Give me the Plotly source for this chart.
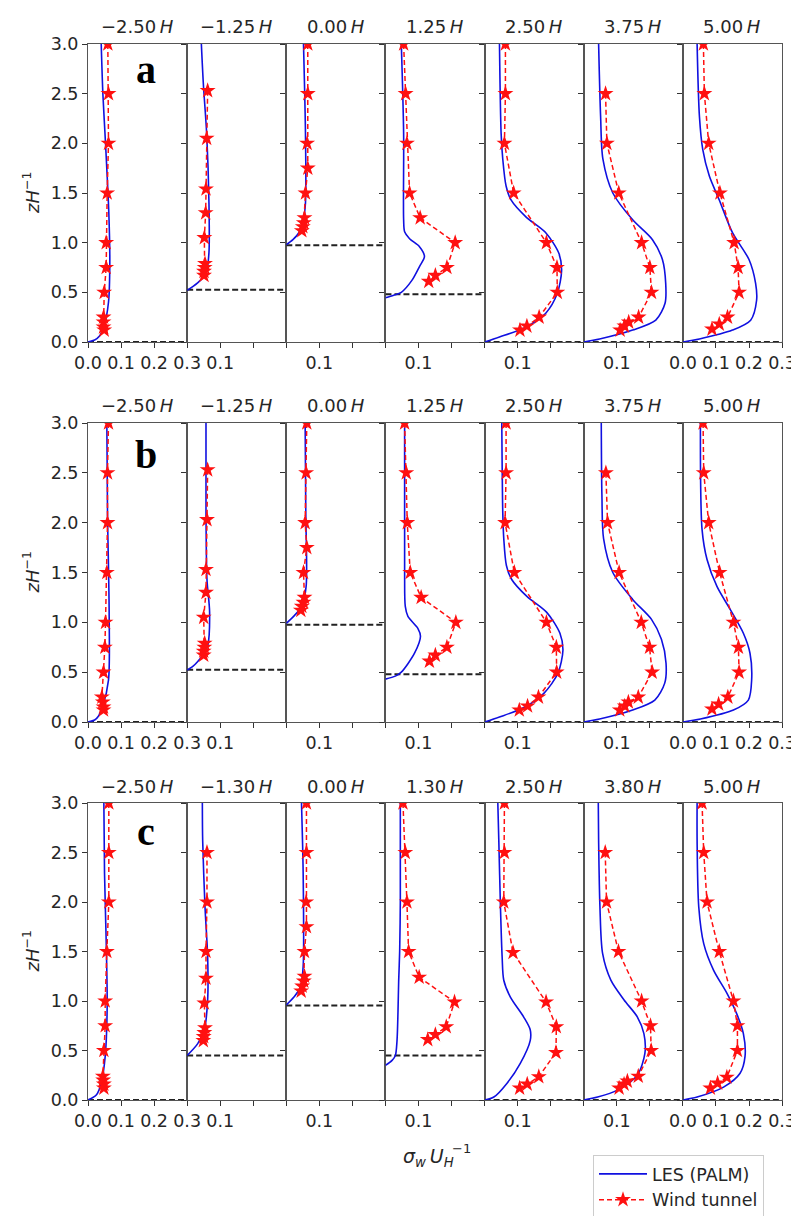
import plotly.graph_objects as go

# ---------------- data ----------------
titles_ab = ["−2.50", "−1.25", "0.00", "1.25", "2.50", "3.75", "5.00"]
titles_c = ["−2.50", "−1.30", "0.00", "1.30", "2.50", "3.80", "5.00"]
row_labels = ["a", "b", "c"]

roof_a = [0, 0.525, 0.975, 0.48, 0, 0, 0]
roof_b = [0, 0.525, 0.975, 0.48, 0, 0, 0]
roof_c = [0, 0.45, 0.955, 0.45, 0, 0, 0]

# wind tunnel heights (z/H) per panel
wt_z_a = [
    [3.0, 2.5, 2.0, 1.5, 1.0, 0.75, 0.5, 0.25, 0.2, 0.15, 0.12],
    [2.53, 2.05, 1.54, 1.3, 1.05, 0.79, 0.75, 0.71, 0.67],
    [3.0, 2.5, 2.0, 1.75, 1.5, 1.25, 1.2, 1.16, 1.12],
    [3.0, 2.5, 2.0, 1.5, 1.25, 1.0, 0.75, 0.67, 0.61],
    [3.0, 2.5, 2.0, 1.5, 1.0, 0.75, 0.5, 0.25, 0.16, 0.12],
    [2.5, 2.0, 1.5, 1.0, 0.75, 0.5, 0.25, 0.2, 0.16, 0.12],
    [3.0, 2.5, 2.0, 1.5, 1.0, 0.75, 0.5, 0.25, 0.18, 0.13],
]
wt_x_a = [
    [0.060, 0.062, 0.062, 0.058, 0.055, 0.055, 0.049, 0.047, 0.047, 0.047, 0.049],
    [0.062, 0.059, 0.057, 0.056, 0.052, 0.054, 0.053, 0.051, 0.051],
    [0.065, 0.065, 0.063, 0.065, 0.058, 0.055, 0.053, 0.050, 0.047],
    [0.055, 0.061, 0.065, 0.073, 0.105, 0.211, 0.186, 0.151, 0.131],
    [0.063, 0.063, 0.060, 0.088, 0.187, 0.219, 0.220, 0.165, 0.128, 0.107],
    [0.066, 0.070, 0.106, 0.175, 0.200, 0.205, 0.166, 0.136, 0.123, 0.110],
    [0.062, 0.065, 0.078, 0.112, 0.155, 0.167, 0.170, 0.135, 0.110, 0.088],
]
wt_z_b = [
    [3.0, 2.5, 2.0, 1.5, 1.0, 0.75, 0.5, 0.25, 0.2, 0.15, 0.12],
    [2.53, 2.03, 1.53, 1.3, 1.05, 0.79, 0.75, 0.71, 0.67],
    [3.0, 2.5, 2.0, 1.75, 1.5, 1.25, 1.2, 1.16, 1.12],
    [3.0, 2.5, 2.0, 1.5, 1.25, 1.0, 0.75, 0.67, 0.61],
    [3.0, 2.5, 2.0, 1.5, 1.0, 0.75, 0.5, 0.25, 0.16, 0.12],
    [2.5, 2.0, 1.5, 1.0, 0.75, 0.5, 0.25, 0.2, 0.16, 0.12],
    [3.0, 2.5, 2.0, 1.5, 1.0, 0.75, 0.5, 0.25, 0.18, 0.13],
]
wt_x_b = [
    [0.062, 0.059, 0.059, 0.057, 0.053, 0.051, 0.047, 0.042, 0.045, 0.047, 0.047],
    [0.062, 0.060, 0.057, 0.057, 0.050, 0.053, 0.052, 0.050, 0.050],
    [0.062, 0.060, 0.057, 0.062, 0.052, 0.055, 0.052, 0.047, 0.044],
    [0.058, 0.063, 0.066, 0.075, 0.108, 0.213, 0.186, 0.151, 0.133],
    [0.065, 0.065, 0.062, 0.090, 0.187, 0.217, 0.218, 0.163, 0.130, 0.105],
    [0.067, 0.072, 0.107, 0.174, 0.199, 0.207, 0.165, 0.135, 0.124, 0.109],
    [0.061, 0.063, 0.078, 0.111, 0.153, 0.168, 0.170, 0.136, 0.108, 0.088],
]
wt_z_c = [
    [3.0, 2.5, 2.0, 1.5, 1.0, 0.75, 0.5, 0.24, 0.2, 0.16, 0.12],
    [2.5, 2.0, 1.5, 1.23, 0.98, 0.73, 0.68, 0.64, 0.6],
    [3.0, 2.5, 2.0, 1.75, 1.5, 1.25, 1.2, 1.15, 1.1],
    [3.0, 2.5, 2.0, 1.5, 1.24, 0.99, 0.74, 0.66, 0.61],
    [3.0, 2.5, 2.0, 1.49, 0.99, 0.74, 0.48, 0.235, 0.16, 0.12],
    [2.5, 2.0, 1.5, 1.0, 0.75, 0.5, 0.24, 0.19, 0.16, 0.12],
    [3.0, 2.5, 2.0, 1.5, 1.0, 0.75, 0.5, 0.23, 0.17, 0.12],
]
wt_x_c = [
    [0.063, 0.063, 0.063, 0.057, 0.052, 0.052, 0.048, 0.045, 0.046, 0.048, 0.048],
    [0.060, 0.060, 0.057, 0.057, 0.052, 0.054, 0.052, 0.050, 0.049],
    [0.061, 0.061, 0.060, 0.061, 0.055, 0.055, 0.053, 0.048, 0.045],
    [0.053, 0.060, 0.065, 0.070, 0.102, 0.209, 0.184, 0.151, 0.128],
    [0.060, 0.060, 0.058, 0.086, 0.186, 0.217, 0.216, 0.164, 0.129, 0.106],
    [0.065, 0.069, 0.105, 0.175, 0.202, 0.204, 0.165, 0.132, 0.122, 0.107],
    [0.058, 0.063, 0.073, 0.110, 0.153, 0.165, 0.165, 0.133, 0.105, 0.083],
]

# LES (PALM) profiles per panel
les_z_a = [
    [0, 0.02, 0.06, 0.15, 0.4, 0.8, 1.3, 2.0, 2.5, 3.0],
    [0.52, 0.56, 0.62, 0.7, 0.9, 1.4, 2.1, 2.6, 3.0],
    [0.98, 1.03, 1.1, 1.2, 1.4, 2.1, 3.0],
    [0.445, 0.47, 0.5, 0.62, 0.76, 0.86, 0.96, 1.04, 1.11, 1.23, 2.1, 3.0],
    [0, 0.05, 0.15, 0.29, 0.49, 0.72, 0.89, 1.1, 1.26, 1.43, 1.57, 1.84, 2.1, 3.0],
    [0, 0.03, 0.12, 0.22, 0.39, 0.59, 0.83, 1.03, 1.23, 1.5, 1.84, 2.27, 3.0],
    [0, 0.03, 0.12, 0.22, 0.42, 0.59, 0.83, 1.1, 1.43, 1.67, 1.94, 2.27, 3.0],
]
les_x_a = [
    [0, 0.02, 0.035, 0.048, 0.062, 0.066, 0.063, 0.053, 0.045, 0.040],
    [0, 0.018, 0.04, 0.058, 0.066, 0.066, 0.059, 0.049, 0.043],
    [0, 0.02, 0.038, 0.05, 0.058, 0.058, 0.052],
    [0, 0.025, 0.048, 0.08, 0.103, 0.118, 0.103, 0.073, 0.058, 0.055, 0.055, 0.048],
    [0, 0.045, 0.125, 0.185, 0.22, 0.233, 0.225, 0.185, 0.125, 0.08, 0.065, 0.055, 0.05, 0.045],
    [0, 0.048, 0.148, 0.218, 0.246, 0.248, 0.238, 0.208, 0.148, 0.088, 0.058, 0.051, 0.045],
    [0, 0.05, 0.15, 0.205, 0.223, 0.22, 0.2, 0.15, 0.11, 0.08, 0.06, 0.05, 0.043],
]
les_z_b = [
    [0, 0.02, 0.06, 0.15, 0.42, 1.1, 2.1, 3.0],
    [0.52, 0.56, 0.6, 0.68, 0.76, 1.1, 1.43, 2.1, 3.0],
    [0.99, 1.06, 1.16, 1.36, 2.1, 3.0],
    [0.43, 0.46, 0.5, 0.69, 0.86, 0.94, 1.06, 1.16, 1.5, 3.0],
    [0, 0.05, 0.15, 0.29, 0.49, 0.72, 0.89, 1.1, 1.26, 1.43, 1.57, 1.84, 2.1, 3.0],
    [0, 0.03, 0.12, 0.22, 0.39, 0.59, 0.83, 1.03, 1.23, 1.5, 1.84, 2.27, 3.0],
    [0, 0.03, 0.12, 0.22, 0.42, 0.69, 0.89, 1.13, 1.36, 1.63, 1.93, 3.0],
]
les_x_b = [
    [0, 0.02, 0.032, 0.044, 0.062, 0.064, 0.059, 0.057],
    [0, 0.018, 0.03, 0.05, 0.062, 0.068, 0.06, 0.057, 0.057],
    [0, 0.022, 0.047, 0.06, 0.059, 0.057],
    [0, 0.03, 0.048, 0.088, 0.106, 0.098, 0.068, 0.06, 0.058, 0.058],
    [0, 0.045, 0.122, 0.18, 0.222, 0.237, 0.228, 0.188, 0.128, 0.082, 0.066, 0.058, 0.055, 0.052],
    [0, 0.048, 0.148, 0.215, 0.245, 0.249, 0.235, 0.205, 0.148, 0.088, 0.06, 0.055, 0.053],
    [0, 0.053, 0.153, 0.198, 0.208, 0.203, 0.183, 0.143, 0.103, 0.073, 0.058, 0.053],
]
les_z_c = [
    [0, 0.05, 0.17, 0.44, 0.94, 1.61, 2.29, 3.0],
    [0.45, 0.57, 0.71, 1.01, 1.45, 1.95, 2.62, 3.0],
    [0.96, 1.04, 1.14, 1.35, 2.29, 3.0],
    [0.35, 0.4, 0.45, 0.6, 0.9, 1.2, 1.5, 2.0, 3.0],
    [0, 0.03, 0.17, 0.37, 0.6, 0.71, 0.84, 1.04, 1.21, 1.45, 1.95, 2.62, 3.0],
    [0, 0.03, 0.1, 0.25, 0.47, 0.67, 0.84, 1.01, 1.21, 1.48, 1.95, 2.62, 3.0],
    [0, 0.03, 0.13, 0.27, 0.44, 0.67, 0.87, 1.08, 1.31, 1.58, 1.95, 2.62, 3.0],
]
les_x_c = [
    [0, 0.025, 0.04, 0.052, 0.058, 0.055, 0.05, 0.048],
    [0, 0.032, 0.052, 0.062, 0.062, 0.054, 0.047, 0.046],
    [0, 0.023, 0.043, 0.051, 0.051, 0.046],
    [0, 0.02, 0.03, 0.035, 0.038, 0.04, 0.043, 0.045, 0.045],
    [0, 0.028, 0.068, 0.108, 0.138, 0.138, 0.118, 0.078, 0.058, 0.053, 0.048, 0.043, 0.04],
    [0, 0.042, 0.102, 0.162, 0.185, 0.182, 0.162, 0.122, 0.082, 0.057, 0.049, 0.045, 0.044],
    [0, 0.043, 0.123, 0.173, 0.188, 0.183, 0.163, 0.133, 0.093, 0.063, 0.048, 0.043, 0.043],
]

x_ticks = [0, 0.1, 0.2, 0.3]
x_ticks_full = ["0.0", "0.1", "0.2", "0.3"]
x_ticks_mid = ["", "0.1", "", ""]
y_ticks = [0, 0.5, 1.0, 1.5, 2.0, 2.5, 3.0]

# ---------------- layout geometry (screen pixels) ----------------
OFF = 8                      # default page margin of the html body
W, H = 799 - OFF, 1216 - OFF  # figure size
left0, pw = 88.0, 99.15
row_top = [44, 423, 803]
row_bot = [342, 722, 1100]
label_off = [26, 32, 28]
FONT = "DejaVu Sans"
TXT = "#262626"


def px(xs):
    return (xs - OFF) / W


def py(ys):
    return 1 - (ys - OFF) / H


rows = [
    (titles_ab, roof_a, wt_z_a, wt_x_a, les_z_a, les_x_a),
    (titles_ab, roof_b, wt_z_b, wt_x_b, les_z_b, les_x_b),
    (titles_c, roof_c, wt_z_c, wt_x_c, les_z_c, les_x_c),
]

fig = go.Figure()
layout = {}
annotations = []

for r, (titles, roofs, wz, wx, lz, lx) in enumerate(rows):
    y0 = py(row_bot[r])
    y1 = py(row_top[r])
    for c in range(7):
        k = r * 7 + c + 1
        xa = "x" if k == 1 else f"x{k}"
        ya = "y" if k == 1 else f"y{k}"
        first = (k == 1)
        fig.add_trace(go.Scatter(
            x=[0, 0.3], y=[roofs[c], roofs[c]], mode="lines",
            line=dict(color="#222222", width=2, dash="6px,3px"),
            showlegend=False, hoverinfo="skip", xaxis=xa, yaxis=ya))
        fig.add_trace(go.Scatter(
            x=lx[c], y=lz[c], mode="lines", name="LES (PALM)",
            line=dict(color="#1010e0", width=1.6, shape="spline", smoothing=0.8),
            showlegend=first, xaxis=xa, yaxis=ya))
        fig.add_trace(go.Scatter(
            x=wx[c], y=wz[c], mode="lines+markers", name="Wind tunnel",
            line=dict(color="#ff1010", width=1.5, dash="5px,3px"),
            marker=dict(symbol="star", size=12, color="#ff1010", line=dict(width=0)),
            showlegend=first, xaxis=xa, yaxis=ya))

        xd0 = px(left0 + c * pw)
        xd1 = px(left0 + (c + 1) * pw)
        layout["xaxis" if k == 1 else f"xaxis{k}"] = dict(
            domain=[xd0, xd1], anchor=ya, range=[0, 0.3], automargin=False,
            tickmode="array", tickvals=x_ticks,
            ticktext=x_ticks_full if c in (0, 6) else x_ticks_mid,
            ticks="outside", ticklen=5, tickwidth=1.2, tickcolor="#333",
            showline=True, mirror=True, linecolor="#555", linewidth=1,
            showgrid=False, zeroline=False,
            tickfont=dict(family=FONT, size=17.5, color=TXT), fixedrange=True)
        layout["yaxis" if k == 1 else f"yaxis{k}"] = dict(
            domain=[y0, y1], anchor=xa, range=[0, 3], automargin=False,
            tickmode="array", tickvals=y_ticks,
            showticklabels=(c == 0), tickformat=".1f",
            ticks="outside", ticklen=5, tickwidth=1.2, tickcolor="#333",
            showline=True, mirror=True, linecolor="#555", linewidth=1,
            showgrid=False, zeroline=False,
            tickfont=dict(family=FONT, size=17.5, color=TXT), fixedrange=True)

        annotations.append(dict(
            text=f"{titles[c]}\u2009<i>H</i>", xref="paper", yref="paper",
            x=(xd0 + xd1) / 2, y=py(row_top[r] - 17),
            xanchor="center", yanchor="middle",
            showarrow=False, font=dict(family=FONT, size=18, color=TXT)))

    annotations.append(dict(
        text=f"<b>{row_labels[r]}</b>", xref="paper", yref="paper",
        x=px(146), y=py(row_top[r] + label_off[r]), xanchor="center", yanchor="middle",
        showarrow=False, font=dict(family="Liberation Serif", size=40, color="black")))
    annotations.append(dict(
        text="<i>zH</i><sup>−1</sup>", xref="paper", yref="paper",
        x=px(31), y=py((row_top[r] + row_bot[r]) / 2), textangle=-90,
        xanchor="center", yanchor="middle", showarrow=False,
        font=dict(family=FONT, size=18, color=TXT)))

annotations.append(dict(
    text="<i>σ<sub>w</sub>\u2009U<sub>H</sub></i>", xref="paper", yref="paper",
    x=px(401), y=py(1157), xanchor="left", yanchor="middle", showarrow=False,
    font=dict(family=FONT, size=19, color=TXT)))
annotations.append(dict(
    text="−1", xref="paper", yref="paper",
    x=px(461), y=py(1148), xanchor="center", yanchor="middle", showarrow=False,
    font=dict(family=FONT, size=13, color=TXT)))

fig.update_layout(
    width=W, height=H, margin=dict(l=0, r=0, t=0, b=0, autoexpand=False),
    paper_bgcolor="white", plot_bgcolor="white",
    annotations=annotations,
    legend=dict(x=px(593), y=py(1155), xanchor="left", yanchor="top",
                bordercolor="#cccccc", borderwidth=1, bgcolor="white",
                itemwidth=48,
                font=dict(family=FONT, size=17.5, color=TXT)),
    **layout)

fig.write_html("out.html")
